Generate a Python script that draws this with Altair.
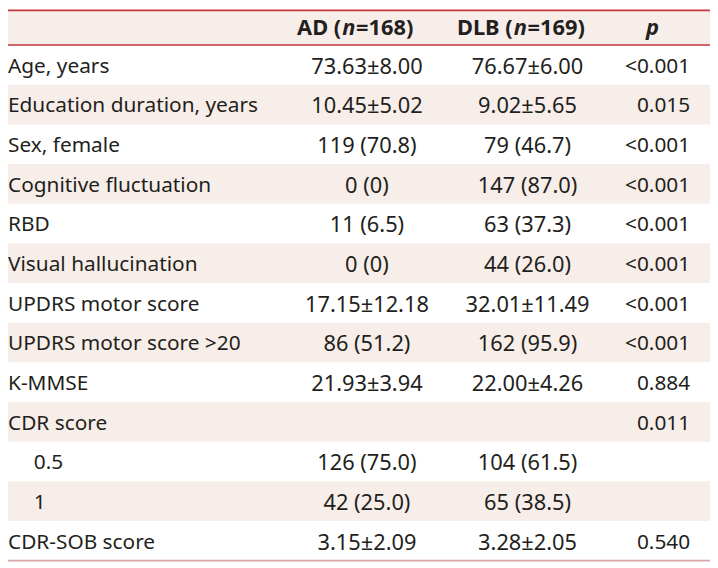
import altair as alt
import pandas as pd

# ---------------- data ----------------
labels = ["Age, years", "Education duration, years", "Sex, female", "Cognitive fluctuation",
          "RBD", "Visual hallucination", "UPDRS motor score", "UPDRS motor score >20",
          "K-MMSE", "CDR score", "0.5", "1", "CDR-SOB score"]
sub_item = [False, False, False, False, False, False, False, False, False, False, True, True, False]
ad_vals = ["73.63±8.00", "10.45±5.02", "119 (70.8)", "0 (0)", "11 (6.5)", "0 (0)",
           "17.15±12.18", "86 (51.2)", "21.93±3.94", "", "126 (75.0)", "42 (25.0)", "3.15±2.09"]
dlb_vals = ["76.67±6.00", "9.02±5.65", "79 (46.7)", "147 (87.0)", "63 (37.3)", "44 (26.0)",
            "32.01±11.49", "162 (95.9)", "22.00±4.26", "", "104 (61.5)", "65 (38.5)", "3.28±2.05"]
p_vals = ["<0.001", "0.015", "<0.001", "<0.001", "<0.001", "<0.001", "<0.001", "<0.001",
          "0.884", "0.011", "", "", "0.540"]
header_ad = ["AD (", "n", "=168)"]
header_dlb = ["DLB (", "n", "=169)"]
header_p = "p"

# ---------------- layout / style ----------------
NR = len(labels)
ROW_PX = 40
HEAD_PX = 35
W, H = 708, HEAD_PX + NR * ROW_PX
H0 = -HEAD_PX / ROW_PX          # header occupies [H0, 0] in row units
FONT = "Noto Sans"
FS = 21
FS_VAL = 22
FS_HEAD = 22
TXT = "#231f20"
SHADE = "#f8eee9"
RED = "#c4363d"
RED_LIGHT = "#d9a4a4"

X_AD, X_DLB, X_P_RIGHT, X_P_HEAD = 362, 524, 688, 650
X_INDENT = 26

rows = pd.DataFrame({
    "row": list(range(NR)),
    "label": labels,
    "sub": sub_item,
    "ad": ad_vals,
    "dlb": dlb_vals,
    "p": p_vals,
})
rows["mid"] = rows["row"] + 0.5

yscale = alt.Scale(domain=[H0, NR], range=[0, H], nice=False, zero=False)
base = alt.Chart(rows)

# shaded bands: header + every second data row
bands = pd.DataFrame({"top": [H0] + [r for r in range(1, NR, 2)]})
bands["bot"] = [0] + [r + 1 for r in range(1, NR, 2)]
band_layer = alt.Chart(bands).mark_rect(color=SHADE).encode(
    x=alt.value(0), x2=alt.value(W),
    y=alt.Y("top:Q", scale=yscale, axis=None),
    y2="bot:Q",
)

red_lines = alt.Chart(pd.DataFrame({"y": [H0, 0]})).mark_rule(color=RED, strokeWidth=1.6).encode(
    x=alt.value(0), x2=alt.value(W),
    y=alt.Y("y:Q", scale=yscale, axis=None),
)
bottom_line = alt.Chart(pd.DataFrame({"y": [NR]})).mark_rule(color=RED_LIGHT, strokeWidth=1.8).encode(
    x=alt.value(0), x2=alt.value(W),
    y=alt.Y("y:Q", scale=yscale, axis=None),
)

def txt(align="left", bold=False, italic=False, size=FS, dy=2):
    return dict(font=FONT, fontSize=size, color=TXT, align=align, baseline="middle",
                fontWeight="bold" if bold else "normal",
                fontStyle="italic" if italic else "normal", dy=dy)

ycol = alt.Y("mid:Q", scale=yscale, axis=None)

lab_main = base.transform_filter("!datum.sub").mark_text(**txt("left")).encode(
    x=alt.value(0), y=ycol, text="label:N")
lab_sub = base.transform_filter("datum.sub").mark_text(**txt("left")).encode(
    x=alt.value(X_INDENT), y=ycol, text="label:N")
ad_layer = base.mark_text(**txt("center", size=FS_VAL)).encode(x=alt.value(X_AD), y=ycol, text="ad:N")
dlb_layer = base.mark_text(**txt("center", size=FS_VAL)).encode(x=alt.value(X_DLB), y=ycol, text="dlb:N")
p_layer = base.mark_text(**txt("right")).encode(x=alt.value(X_P_RIGHT), y=ycol, text="p:N")

hbase = alt.Chart(pd.DataFrame({"mid": [H0 / 2]}))
def hpiece(s, x, align, italic=False):
    return hbase.mark_text(**txt(align, bold=True, italic=italic, size=FS_HEAD, dy=0), text=s).encode(
        x=alt.value(x), y=ycol)

header_layers = [
    hpiece(header_ad[0], 336, "right"),
    hpiece(header_ad[1], 337, "left", italic=True),
    hpiece(header_ad[2], 351, "left"),
    hpiece(header_dlb[0], 509, "right"),
    hpiece(header_dlb[1], 510, "left", italic=True),
    hpiece(header_dlb[2], 524, "left"),
    hpiece(header_p, X_P_HEAD, "center", italic=True),
]

chart = alt.layer(
    band_layer, red_lines, bottom_line,
    lab_main, lab_sub, ad_layer, dlb_layer, p_layer, *header_layers
).properties(
    width=W, height=H, padding=0, autosize=alt.AutoSizeParams(type="none")
).configure_view(stroke=None)

chart.save("out.html", embed_options={"renderer": "svg", "actions": False})
